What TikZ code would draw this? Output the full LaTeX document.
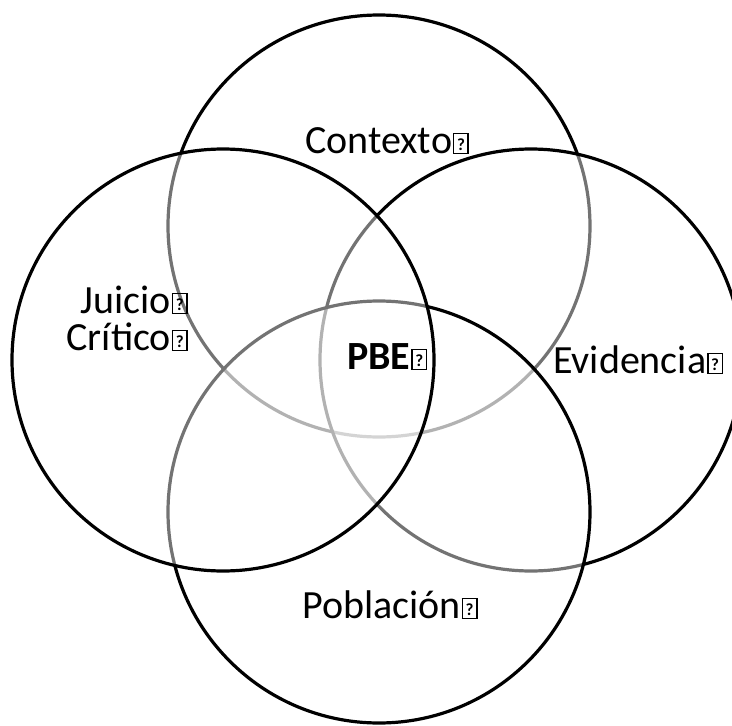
\documentclass[tikz,border=0pt]{standalone}
\usepackage{fontspec}
\setmainfont{Carlito}
\newlength\qmkh \setlength\qmkh{19pt}
\newcommand\qmk{\kern1pt\hbox{\setlength\fboxsep{0pt}\setlength\fboxrule{1.4pt}\fbox{\vrule width 0pt height \qmkh\hbox to 13pt{\hss\raisebox{3pt}{\fontsize{17}{17}\selectfont\bfseries ?}\hss}}}}
\tikzset{
  venn/.style={draw=black, line width=3.2pt, fill=white, fill opacity=0.45},
  lbl/.style={inner sep=0pt, font=\fontsize{40}{37}\selectfont, text=black}
}
\begin{document}
\begin{tikzpicture}[x=1pt,y=-1pt]
\useasboundingbox (0,0) rectangle (732,726);
\path[venn] (379,226) circle[radius=211pt];
\path[venn] (531,360) circle[radius=211pt];
\path[venn] (379,512) circle[radius=211pt];
\path[venn] (223,360) circle[radius=211pt];
\node[lbl, anchor=base west] (ctx) at (305,153) {Contexto\qmk};
\node[lbl, anchor=base west] (evi) at (553,373) {Evidencia\qmk};
\node[lbl, anchor=base west] (pob) at (302,618) {Población\qmk};
\node[lbl, anchor=base west, font=\fontsize{40}{37}\selectfont\bfseries] (pbe) at (347,369) {PBE\qmk};
\node[lbl, anchor=base east, align=right] (jui) at (188,350) {Juicio\qmk\\Crítico\qmk};
\end{tikzpicture}
\end{document}
